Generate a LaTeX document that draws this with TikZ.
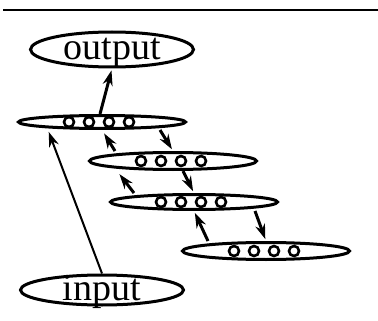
\documentclass[tikz,border=0pt]{standalone}
\usepackage{fontspec}
\setmainfont{Liberation Serif}
\usetikzlibrary{arrows.meta,shapes.geometric}

\begin{document}
\begin{tikzpicture}[
  x=1pt, y=-1pt,
  io/.style={draw, ellipse, line width=3pt, minimum width=163pt, inner sep=0pt,
    text height=20pt, text depth=0pt, font=\fontsize{38}{40}\selectfont},
  layer/.style={draw, ellipse, line width=3pt, minimum width=167pt, minimum height=15pt, inner sep=0pt},
  unit/.style={draw, circle, line width=2.6pt, fill=white, minimum size=10pt, inner sep=0pt},
  link/.style={-{Stealth[length=15pt,width=10pt]}, line width=3pt, shorten >=2pt}
]
\useasboundingbox (0,0) rectangle (378,321);
% rule across the top
\draw[line width=2pt] (3,10) -- (378,10);
% input / output
\node[io, minimum height=35pt] (out) at (112,49.5) {output};
\node[io, minimum height=30pt] (in) at (102,290) {input};
% the four layers, each with four units
\node[layer, minimum height=13pt] (l1) at (102,122) {};
\node[layer, minimum height=17pt] (l2) at (173,161) {};
\node[layer] (l3) at (194,202) {};
\node[layer, minimum height=17pt] (l4) at (266,251) {};
\foreach \l/\dx in {l1/-3,l2/-2,l3/-3,l4/-2} {
  \foreach \i/\u in {1/-30,2/-10,3/10,4/30}
    \node[unit] (\l u\i) at ([xshift=\u pt+\dx pt]\l.center) {};
}
% connections
\draw[link, line width=2pt] (in.north) -- ([xshift=-54pt]l1.south);
\draw[link] ([xshift=-2pt]l1.north) -- (out.south);
\draw[link, shorten >=4pt] ([xshift=-58pt]l2.north) -- (l1.south);
\draw[link] ([xshift=58pt]l1.south) -- (l2.north);
\draw[link, shorten >=4pt] ([xshift=-60pt]l3.north) -- ([xshift=-56pt]l2.south);
\draw[link] ([xshift=10pt]l2.south) -- (l3.north);
\draw[link] ([xshift=-58pt]l4.north) -- (l3.south);
\draw[link] ([xshift=61pt]l3.south) -- (l4.north);
\end{tikzpicture}
\end{document}
